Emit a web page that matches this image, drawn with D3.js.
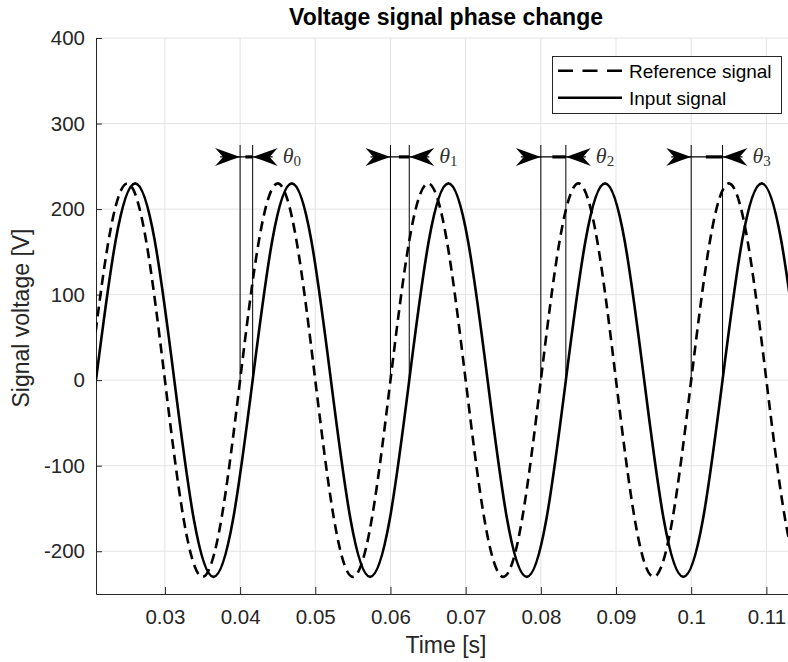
<!DOCTYPE html>
<html>
<head>
<meta charset="utf-8">
<script src="https://cdn.jsdelivr.net/npm/d3@7"></script>
<style>
    body { margin: 0; background: #fff; }
    svg { display: block; font-family: "Liberation Sans", Arial, sans-serif; }
</style>
</head>
<body>
<div id="chart"></div>
<script>
// Reference signal (dashed) samples
const refTime = [0.0200, 0.0225, 0.0250, 0.0275, 0.0300, 0.0325, 0.0350, 0.0375,
    0.0400, 0.0425, 0.0450, 0.0475, 0.0500, 0.0525, 0.0550, 0.0575,
    0.0600, 0.0625, 0.0650, 0.0675, 0.0700, 0.0725, 0.0750, 0.0775,
    0.0800, 0.0825, 0.0850, 0.0875, 0.0900, 0.0925, 0.0950, 0.0975,
    0.1000, 0.1025, 0.1050, 0.1075, 0.1100, 0.1125, 0.1150, 0.1175, 0.1200];
const refVolt = [0, 163, 230, 163, 0, -163, -230, -163,
    0, 163, 230, 163, 0, -163, -230, -163,
    0, 163, 230, 163, 0, -163, -230, -163,
    0, 163, 230, 163, 0, -163, -230, -163,
    0, 163, 230, 163, 0, -163, -230, -163, 0];

// Input signal (solid) samples
const inputTime = [0.02083, 0.02344, 0.02604, 0.02865, 0.03125, 0.03385, 0.03646, 0.03906,
    0.04167, 0.04427, 0.04688, 0.04948, 0.05208, 0.05469, 0.05729, 0.05990,
    0.06250, 0.06510, 0.06771, 0.07031, 0.07292, 0.07552, 0.07813, 0.08073,
    0.08333, 0.08594, 0.08854, 0.09115, 0.09375, 0.09635, 0.09896, 0.10156,
    0.10417, 0.10677, 0.10938, 0.11198, 0.11458];
const inputVolt = [0, 163, 230, 163, 0, -163, -230, -163,
    0, 163, 230, 163, 0, -163, -230, -163,
    0, 163, 230, 163, 0, -163, -230, -163,
    0, 163, 230, 163, 0, -163, -230, -163,
    0, 163, 230, 163, 0];

// Phase annotations: rising zero crossings of each signal
const refCross = [0.04, 0.06, 0.08, 0.10];
const inputCross = [0.04167, 0.0625, 0.08333, 0.10417];
const thetaSubs = ["0", "1", "2", "3"];
const arrowLevel = 261;
const markerTop = 275;

const xTicks = [0.03, 0.04, 0.05, 0.06, 0.07, 0.08, 0.09, 0.10, 0.11];
const yTicks = [-200, -100, 0, 100, 200, 300, 400];

const legendNames = ["Reference signal", "Input signal"];

const W = 788, H = 662;
const plot = { left: 96, right: 796, top: 38, bottom: 594 };

const svg = d3.select("#chart").append("svg")
    .attr("width", W)
    .attr("height", H);

const x = d3.scaleLinear()
    .domain([0.020833, 0.11394])
    .range([plot.left, plot.right]);

const y = d3.scaleLinear()
    .domain([-250, 400])
    .range([plot.bottom, plot.top]);

// grid
const grid = svg.append("g").attr("class", "grid");
grid.selectAll(".vgrid")
    .data(xTicks)
    .enter().append("line")
    .attr("x1", d => x(d)).attr("x2", d => x(d))
    .attr("y1", plot.top).attr("y2", plot.bottom)
    .attr("stroke", "#e3e3e3");
grid.selectAll(".hgrid")
    .data(yTicks)
    .enter().append("line")
    .attr("x1", plot.left).attr("x2", plot.right)
    .attr("y1", d => y(d)).attr("y2", d => y(d))
    .attr("stroke", "#e3e3e3");

// axes (ticks point inward, MATLAB style)
const xAxisG = svg.append("g")
    .attr("transform", `translate(0,${plot.bottom})`)
    .call(d3.axisBottom(x)
        .tickValues(xTicks)
        .tickFormat(d => String(+d.toFixed(2)))
        .tickSize(-7)
        .tickSizeOuter(0)
        .tickPadding(15));

const yAxisG = svg.append("g")
    .attr("transform", `translate(${plot.left},0)`)
    .call(d3.axisLeft(y)
        .tickValues(yTicks)
        .tickFormat(d => String(d))
        .tickSize(-6)
        .tickSizeOuter(0)
        .tickPadding(11));

[xAxisG, yAxisG].forEach(g => {
    g.select(".domain").attr("stroke", "#262626");
    g.selectAll(".tick line").attr("stroke", "#262626");
    g.selectAll(".tick text")
        .attr("fill", "#262626")
        .style("font-size", "20.5px");
});

// curves
svg.append("clipPath").attr("id", "clip")
    .append("rect")
    .attr("x", plot.left).attr("y", plot.top)
    .attr("width", plot.right - plot.left)
    .attr("height", plot.bottom - plot.top);

const line = d3.line()
    .x(d => x(d[0]))
    .y(d => y(d[1]))
    .curve(d3.curveNatural);

const lines = svg.append("g").attr("clip-path", "url(#clip)");

lines.append("path")
    .datum(refTime.map((t, i) => [t, refVolt[i]]))
    .attr("d", line)
    .attr("fill", "none")
    .attr("stroke", "#000")
    .attr("stroke-width", 2.6)
    .attr("stroke-dasharray", "10,6");

lines.append("path")
    .datum(inputTime.map((t, i) => [t, inputVolt[i]]))
    .attr("d", line)
    .attr("fill", "none")
    .attr("stroke", "#000")
    .attr("stroke-width", 2.6);

// phase annotations
const headPath = "M0,0 L-9,-3.2 L-25,-9 L-17,0 L-25,9 L-9,3.2 Z";
const ann = svg.append("g").attr("class", "annotations");

refCross.forEach((rc, i) => {
    const xl = x(rc), xr = x(inputCross[i]), ya = y(arrowLevel);
    const gap = xr - xl;

    [xl, xr].forEach(xv => {
        ann.append("line")
            .attr("x1", xv).attr("x2", xv)
            .attr("y1", y(markerTop)).attr("y2", y(0))
            .attr("stroke", "#000")
            .attr("stroke-width", 1);
    });

    ann.append("line")
        .attr("x1", xl - 20).attr("x2", xr + 20)
        .attr("y1", ya).attr("y2", ya)
        .attr("stroke", "#000")
        .attr("stroke-width", 1.3);

    ann.append("line")
        .attr("x1", xr - gap * 0.5 - 1).attr("x2", xr)
        .attr("y1", ya).attr("y2", ya)
        .attr("stroke", "#000")
        .attr("stroke-width", 3.2);

    ann.append("path")
        .attr("d", headPath)
        .attr("transform", `translate(${xl},${ya})`)
        .attr("fill", "#000");

    ann.append("path")
        .attr("d", headPath)
        .attr("transform", `translate(${xr},${ya}) scale(-1,1)`)
        .attr("fill", "#000");

    const lab = ann.append("text")
        .attr("x", xr + 30)
        .attr("y", ya + 6)
        .attr("fill", "#333")
        .style("font-family", "'Liberation Serif', 'DejaVu Serif', serif")
        .style("font-size", "22px");
    lab.append("tspan").style("font-style", "italic").text("θ");
    lab.append("tspan")
        .attr("dy", 3)
        .style("font-size", "15px")
        .text(thetaSubs[i]);
});

// legend
const legend = svg.append("g").attr("class", "legend");
legend.append("rect")
    .attr("x", 552.5).attr("y", 56.5)
    .attr("width", 229).attr("height", 57)
    .attr("fill", "#fff")
    .attr("stroke", "#262626");

const legendItem = legend.selectAll(".legend-item")
    .data(legendNames)
    .enter().append("g")
    .attr("class", "legend-item")
    .attr("transform", (d, i) => `translate(0,${70.7 + i * 27})`);

legendItem.append("line")
    .attr("x1", 558).attr("x2", 622)
    .attr("stroke", "#000")
    .attr("stroke-width", 2.6)
    .attr("stroke-dasharray", (d, i) => i === 0 ? "15,9.5" : null);

legendItem.append("text")
    .attr("x", 629)
    .attr("y", 7)
    .attr("fill", "#000")
    .style("font-size", "19px")
    .text(d => d);

// title and axis labels
svg.append("text")
    .attr("x", (plot.left + plot.right) / 2)
    .attr("y", 25)
    .attr("text-anchor", "middle")
    .attr("fill", "#000")
    .style("font-size", "23px")
    .style("font-weight", "bold")
    .text("Voltage signal phase change");

svg.append("text")
    .attr("x", (plot.left + plot.right) / 2)
    .attr("y", 653)
    .attr("text-anchor", "middle")
    .attr("fill", "#262626")
    .style("font-size", "23px")
    .text("Time [s]");

svg.append("text")
    .attr("transform", `translate(29,${(plot.top + plot.bottom) / 2 + 2}) rotate(-90)`)
    .attr("text-anchor", "middle")
    .attr("fill", "#262626")
    .style("font-size", "23px")
    .text("Signal voltage [V]");
</script>
</body>
</html>
